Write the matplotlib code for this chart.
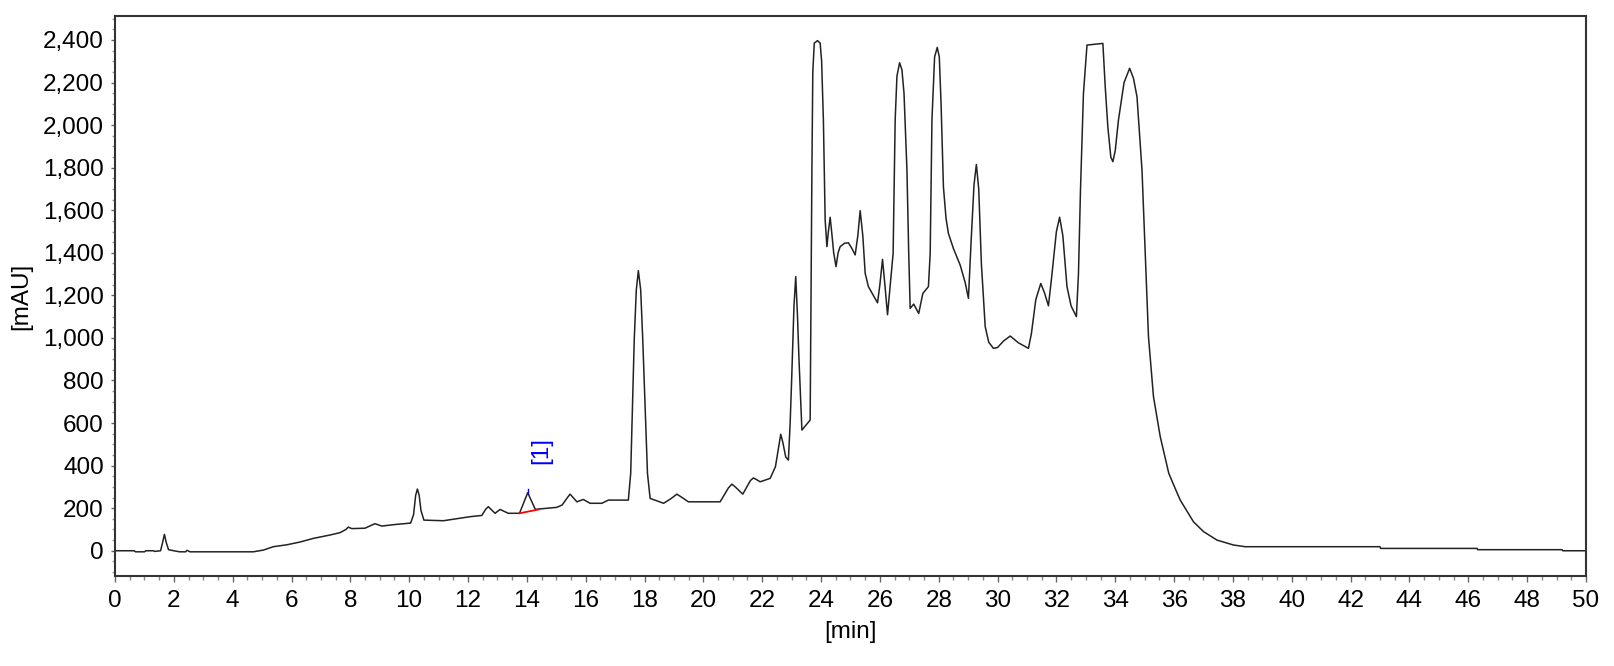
import numpy as np
import matplotlib
matplotlib.use('Agg')
import matplotlib.pyplot as plt
from matplotlib.ticker import MultipleLocator, FuncFormatter

plt.rcParams['font.family'] = ['Liberation Sans', 'DejaVu Sans']

# chromatogram trace: time [min], signal [mAU]
t = [0.0, 0.65, 0.7, 1.0, 1.05, 1.3, 1.35, 1.55, 1.62, 1.68, 1.74, 1.82, 2.0, 2.2, 2.4,
     2.45, 2.55, 3.0, 4.0, 4.7, 5.04, 5.38, 5.84, 6.29, 6.74, 7.31, 7.65, 7.85, 7.93, 8.05,
     8.5, 8.75, 8.84, 9.07, 9.5, 10.05, 10.15, 10.22, 10.28, 10.34, 10.4, 10.5, 11.16,
     12.07, 12.47, 12.6, 12.69, 12.78, 12.92, 13.09, 13.37, 13.75, 13.95, 14.03, 14.12,
     14.29, 14.4, 15.02, 15.2, 15.38, 15.47, 15.56, 15.70, 15.92, 16.15, 16.55, 16.77,
     17.45, 17.53, 17.59, 17.65, 17.72, 17.79, 17.87, 17.94, 18.02, 18.10, 18.19,
     18.65, 18.9, 19.10, 19.3, 19.49, 20.57, 20.85, 20.97, 21.1, 21.34, 21.6, 21.70, 21.8,
     21.93, 22.27, 22.45, 22.55, 22.63, 22.7, 22.8, 22.89, 22.95, 23.0, 23.08, 23.14,
     23.2, 23.25, 23.35, 23.63, 23.69, 23.72, 23.77, 23.88, 23.97, 24.02, 24.08, 24.14,
     24.20, 24.25, 24.31, 24.36, 24.43, 24.51, 24.58, 24.65, 24.8, 24.93, 25.05, 25.16,
     25.25, 25.33, 25.42, 25.50, 25.61, 25.92, 26.0, 26.09, 26.17, 26.26, 26.45, 26.52,
     26.58, 26.67, 26.75, 26.82, 26.92, 26.98, 27.03, 27.15, 27.32, 27.46, 27.65, 27.71,
     27.77, 27.86, 27.95, 28.02, 28.08, 28.16, 28.25, 28.33, 28.5, 28.73, 28.9, 29.01,
     29.1, 29.2, 29.28, 29.36, 29.45, 29.58, 29.7, 29.86, 30.0, 30.2, 30.43, 30.71, 31.05,
     31.15, 31.3, 31.47, 31.6, 31.73, 31.85, 32.0, 32.11, 32.22, 32.36, 32.5, 32.68,
     32.75, 32.82, 32.92, 33.04, 33.3, 33.58, 33.66, 33.75, 33.85, 33.92, 34.0, 34.11,
     34.3, 34.49, 34.62, 34.74, 34.91, 35.02, 35.13, 35.30, 35.53, 35.82, 36.0, 36.21,
     36.66, 37.0, 37.46, 38.02, 38.42, 43.0, 43.02, 46.3, 46.32, 49.19, 49.21, 50.0]
mau = [0, 0, -5, -5, 0, 0, -3, 0, 40, 77, 40, 5, 0, -5, -5,
       2, -5, -5, -5, -5, 3, 19, 28, 41, 58, 74, 85, 100, 111, 104,
       106, 122, 127, 116, 123, 130, 170, 260, 290, 260, 190, 144, 141,
       160, 166, 195, 207, 195, 176, 194, 176, 176, 245, 273, 245,
       194, 196, 204, 215, 250, 266, 252, 230, 241, 223, 223, 238,
       238, 364, 677, 990, 1225, 1316, 1225, 990, 677, 364, 246,
       223, 245, 266, 248, 230, 230, 295, 313, 298, 266, 330, 342, 335,
       324, 340, 395, 480, 547, 510, 440, 426, 600, 800, 1150, 1288,
       1100, 900, 567, 614, 1800, 2250, 2385, 2397, 2385, 2300, 2024, 1554,
       1429, 1500, 1567, 1500, 1400, 1335, 1400, 1429, 1445, 1447, 1420, 1390,
       1480, 1598, 1480, 1304, 1241, 1165, 1250, 1369, 1250, 1109, 1397, 2024,
       2230, 2293, 2260, 2150, 1789, 1400, 1139, 1159, 1115, 1209, 1241, 1397,
       2024, 2320, 2365, 2320, 2100, 1710, 1560, 1491, 1420, 1342, 1260, 1186,
       1450, 1720, 1815, 1700, 1350, 1053, 980, 951, 955, 985, 1009, 977, 951,
       1020, 1180, 1256, 1210, 1151, 1300, 1500, 1567, 1480, 1241, 1150, 1100,
       1300, 1700, 2149, 2376, 2380, 2384, 2180, 1990, 1850, 1828, 1880, 2024,
       2200, 2267, 2220, 2133, 1789, 1397, 1006, 724, 536, 364, 305, 238,
       136, 90, 50, 27, 19, 19, 11, 11, 5, 5, 0, 0]

# integrated peak [1]
peak_t = 14.03
peak_top = [273, 289]
base_t = [13.75, 14.40]
base_v = [176, 194]
label_t, label_v = 14.48, 469

fig = plt.figure(figsize=(16.15, 6.66), dpi=100)
ax = fig.add_axes([0.0712, 0.1347, 0.9108, 0.8417])

ax.plot(t, mau, color='#222222', lw=1.1)
ax.plot(base_t, base_v, color='red', lw=1.3)
ax.plot([peak_t, peak_t], peak_top, color='blue', lw=1.0)
ax.text(label_t, label_v, '[1]', color='blue', fontsize=17.5, rotation=90,
        ha='center', va='center')

ax.set_xlim(0, 50)
ax.set_ylim(-120, 2514)
ax.xaxis.set_major_locator(MultipleLocator(2))
ax.xaxis.set_minor_locator(MultipleLocator(0.5))
ax.yaxis.set_major_locator(MultipleLocator(200))
ax.yaxis.set_minor_locator(MultipleLocator(50))
ax.yaxis.set_major_formatter(FuncFormatter(lambda v, p: '{:,.0f}'.format(v)))

ax.tick_params(axis='x', which='major', length=4, width=1, color='#666666',
               labelsize=17.5, pad=6)
ax.tick_params(axis='x', which='minor', length=3, width=1, color='#888888')
ax.tick_params(axis='y', which='major', length=3, width=1, color='#666666',
               labelsize=17.5, pad=5)
ax.tick_params(axis='y', which='minor', length=2, width=1, color='#999999')

for s in ax.spines.values():
    s.set_linewidth(1.5)
    s.set_color('#333333')

ax.set_xlabel('[min]', fontsize=17.5, labelpad=6)
ax.set_ylabel('[mAU]', fontsize=17.5, labelpad=8)

fig.savefig('out.png', dpi=100)
